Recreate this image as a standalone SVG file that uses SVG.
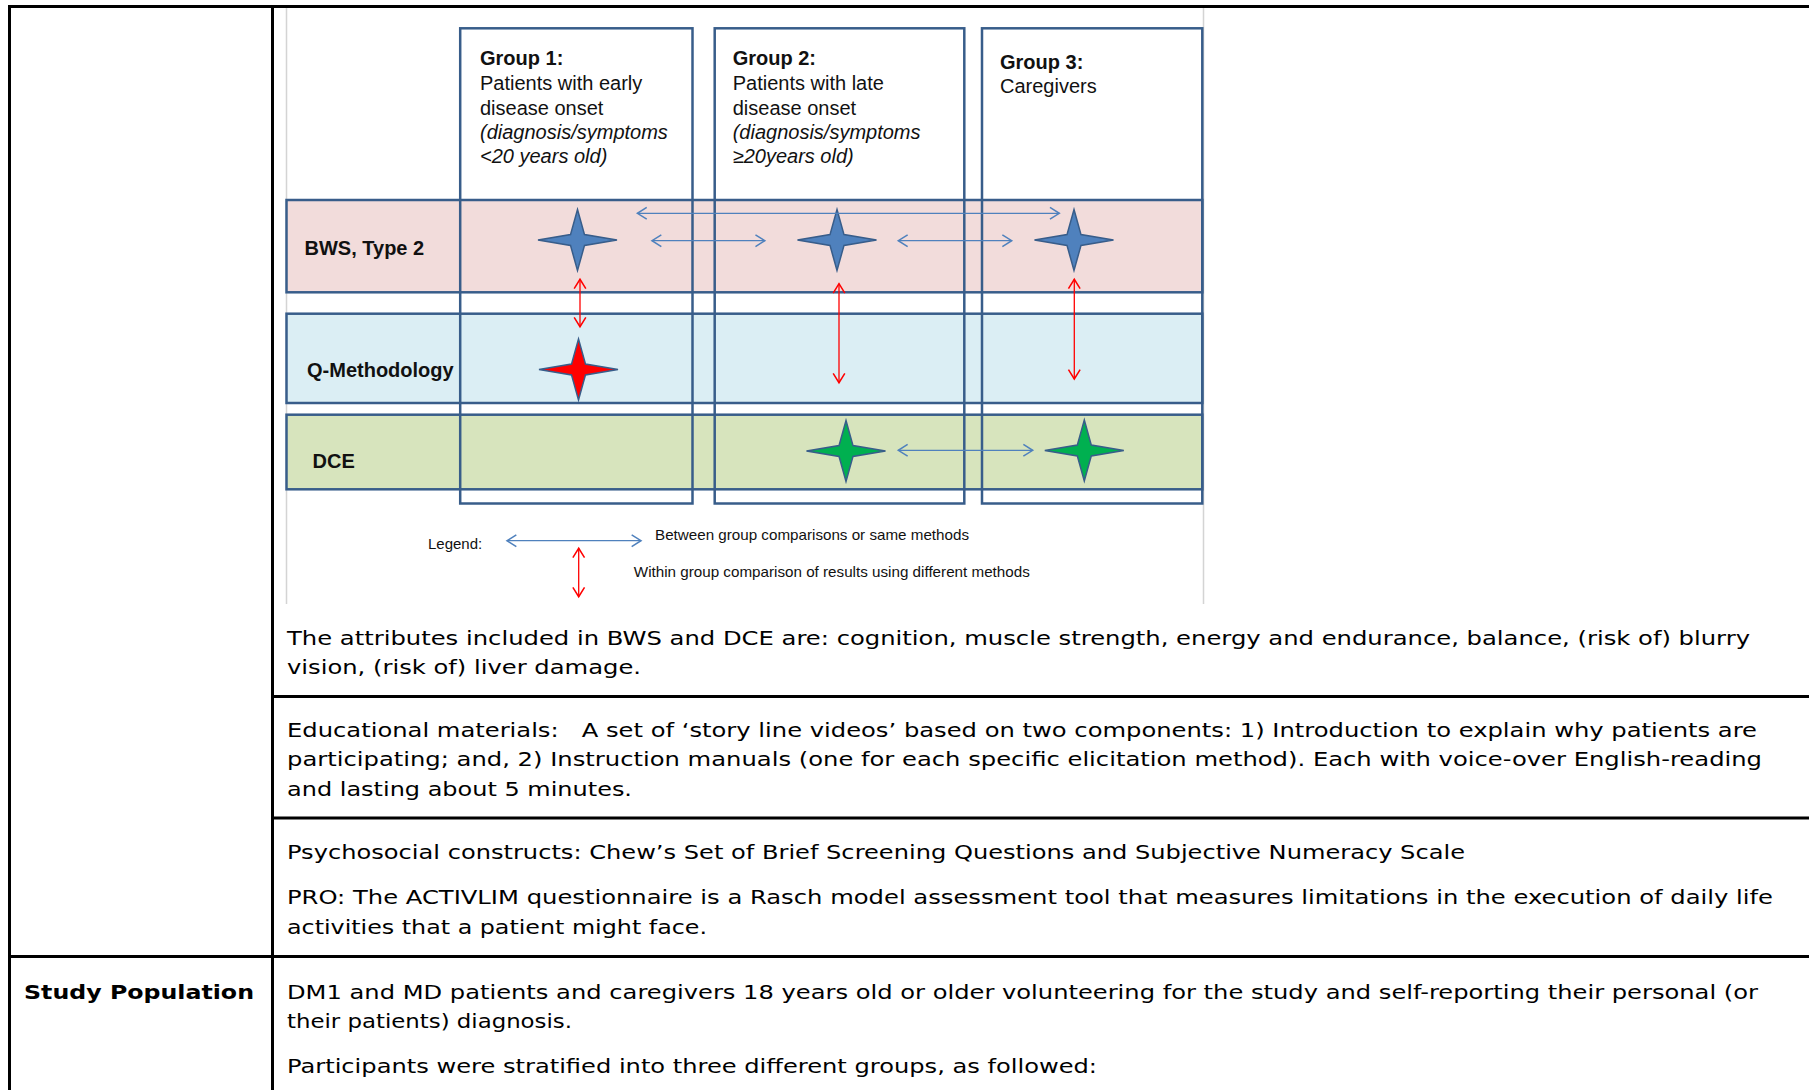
<svg xmlns="http://www.w3.org/2000/svg" xmlns:xlink="http://www.w3.org/1999/xlink" width="1809" height="1090" viewBox="0 0 1809 1090">
  <style>
    .rule { stroke: #000; stroke-width: 3; fill: none; }
    .frame { stroke: #d4d4d4; stroke-width: 1.5; fill: none; }
    .band { stroke: #385D8A; stroke-width: 2.5; }
    .gbox { stroke: #385D8A; stroke-width: 2.5; fill: none; }
    .lbl { font-family: "Liberation Sans", Arial, sans-serif; font-size: 20px; fill: #111; }
    .b { font-weight: bold; }
    .it { font-style: italic; }
    .leg { font-family: "Liberation Sans", Arial, sans-serif; font-size: 15px; fill: #111; }
    .cell { font-family: "DejaVu Sans", Verdana, sans-serif; font-size: 20.3px; fill: #000; }
    .head { font-family: "DejaVu Sans", Verdana, sans-serif; font-size: 20.3px; font-weight: bold; fill: #000; }
    .blue { stroke: #4F81BD; stroke-width: 1.3; fill: none; marker-start: url(#chevBlue); marker-end: url(#chevBlue); }
    .red { stroke: #FF0000; stroke-width: 1.3; fill: none; marker-start: url(#chevRed); marker-end: url(#chevRed); }
    .star { stroke: #385D8A; stroke-width: 1.5; stroke-linejoin: miter; }
  </style>
  <defs>
    <marker id="chevBlue" markerUnits="userSpaceOnUse" markerWidth="14" markerHeight="14" viewBox="-10 -6 12 12" refX="0" refY="0" orient="auto-start-reverse">
      <path d="M-8,-5 L0,0 L-8,5" fill="none" stroke="#4F81BD" stroke-width="1.3"/>
    </marker>
    <marker id="chevRed" markerUnits="userSpaceOnUse" markerWidth="14" markerHeight="14" viewBox="-10 -6 12 12" refX="0" refY="0" orient="auto-start-reverse">
      <path d="M-8,-5 L0,0 L-8,5" fill="none" stroke="#FF0000" stroke-width="1.3"/>
    </marker>
    <path id="star4" d="M0,-30.5 L7,-5.4 L39.5,0 L7,5.4 L0,30.5 L-7,5.4 L-39.5,0 L-7,-5.4 Z"/>
  </defs>

  <rect x="0" y="0" width="1809" height="1090" fill="#fff"/>

  <!-- table rules -->
  <g id="table">
    <line class="rule" x1="8" y1="6.5" x2="1809" y2="6.5"/>
    <line class="rule" x1="9.5" y1="5" x2="9.5" y2="1090"/>
    <line class="rule" x1="272.5" y1="5" x2="272.5" y2="1090"/>
    <line class="rule" x1="272" y1="696.5" x2="1809" y2="696.5"/>
    <line class="rule" x1="272" y1="818" x2="1809" y2="818"/>
    <line class="rule" x1="8" y1="956.5" x2="1809" y2="956.5"/>
  </g>

  <!-- figure frame -->
  <g id="figure-frame">
    <line class="frame" x1="286.5" y1="8" x2="286.5" y2="604"/>
    <line class="frame" x1="1203.5" y1="8" x2="1203.5" y2="604"/>
  </g>

  <!-- method bands -->
  <g id="band-bws">
    <rect class="band" x="286.5" y="200" width="915.8" height="92.3" fill="#F2DCDB"/>
    <text class="lbl b" x="304.5" y="255">BWS, Type 2</text>
  </g>
  <g id="band-qmethod">
    <rect class="band" x="286.5" y="313.7" width="915.8" height="89.3" fill="#DBEEF4"/>
    <text class="lbl b" x="307" y="376.7">Q-Methodology</text>
  </g>
  <g id="band-dce">
    <rect class="band" x="286.5" y="414.7" width="915.8" height="74.6" fill="#D7E4BD"/>
    <text class="lbl b" x="312.5" y="467.7">DCE</text>
  </g>

  <!-- participant groups -->
  <g id="group-1">
    <rect class="gbox" x="460.2" y="28.3" width="232.3" height="475.2"/>
    <text class="lbl" x="480" y="65"><tspan class="b">Group 1:</tspan><tspan x="480" y="90">Patients with early</tspan><tspan x="480" y="114.5">disease onset</tspan><tspan class="it" x="480" y="138.5">(diagnosis/symptoms</tspan><tspan class="it" x="480" y="162.7">&lt;20 years old)</tspan></text>
  </g>
  <g id="group-2">
    <rect class="gbox" x="714.7" y="28.3" width="249.6" height="475.2"/>
    <text class="lbl" x="732.7" y="65"><tspan class="b">Group 2:</tspan><tspan x="732.7" y="90">Patients with late</tspan><tspan x="732.7" y="114.5">disease onset</tspan><tspan class="it" x="732.7" y="138.5">(diagnosis/symptoms</tspan><tspan class="it" x="732.7" y="162.7">≥20years old)</tspan></text>
  </g>
  <g id="group-3">
    <rect class="gbox" x="982" y="28.3" width="220.3" height="475.2"/>
    <text class="lbl" x="1000" y="69"><tspan class="b">Group 3:</tspan><tspan x="1000" y="92.7">Caregivers</tspan></text>
  </g>

  <!-- method markers -->
  <g id="star-bws-g1"><use xlink:href="#star4" class="star" fill="#4F81BD" transform="translate(577.5,240)"/></g>
  <g id="star-bws-g2"><use xlink:href="#star4" class="star" fill="#4F81BD" transform="translate(837,240)"/></g>
  <g id="star-bws-g3"><use xlink:href="#star4" class="star" fill="#4F81BD" transform="translate(1074,240)"/></g>
  <g id="star-q-g1"><use xlink:href="#star4" class="star" fill="#FF0000" stroke-width="2" transform="translate(578.5,369.5)"/></g>
  <g id="star-dce-g2"><use xlink:href="#star4" class="star" fill="#00B050" transform="translate(846,451)"/></g>
  <g id="star-dce-g3"><use xlink:href="#star4" class="star" fill="#00B050" transform="translate(1084.3,450.5)"/></g>

  <!-- comparisons -->
  <g id="connectors">
    <line class="blue" x1="637.4" y1="213.3" x2="1059.3" y2="213.3"/>
    <line class="blue" x1="652" y1="240.7" x2="764.8" y2="240.7"/>
    <line class="blue" x1="898.3" y1="240.7" x2="1011.7" y2="240.7"/>
    <line class="blue" x1="898.3" y1="450.3" x2="1032.7" y2="450.3"/>
    <line class="red" x1="580" y1="279.3" x2="580" y2="326.7"/>
    <line class="red" x1="839" y1="283.7" x2="839" y2="382.7"/>
    <line class="red" x1="1074.3" y1="279.3" x2="1074.3" y2="379"/>
  </g>

  <!-- legend -->
  <g id="legend">
    <text class="leg" x="428" y="549.3">Legend:</text>
    <line class="blue" x1="507" y1="540.7" x2="641" y2="540.7"/>
    <text class="leg" x="655" y="540" textLength="314" lengthAdjust="spacingAndGlyphs">Between group comparisons or same methods</text>
    <line class="red" x1="578.7" y1="548.3" x2="578.7" y2="596.7"/>
    <text class="leg" x="633.8" y="577.3" textLength="396" lengthAdjust="spacingAndGlyphs">Within group comparison of results using different methods</text>
  </g>

  <!-- table text -->
  <g id="cell-text">
    <text class="cell" x="287" y="645" textLength="1463" lengthAdjust="spacingAndGlyphs">The attributes included in BWS and DCE are: cognition, muscle strength, energy and endurance, balance, (risk of) blurry</text>
    <text class="cell" x="287" y="674" textLength="354" lengthAdjust="spacingAndGlyphs">vision, (risk of) liver damage.</text>

    <text class="cell" x="287" y="737" textLength="1470" lengthAdjust="spacingAndGlyphs">Educational materials: &#160; A set of ‘story line videos’ based on two components: 1) Introduction to explain why patients are</text>
    <text class="cell" x="287" y="766" textLength="1475" lengthAdjust="spacingAndGlyphs">participating; and, 2) Instruction manuals (one for each specific elicitation method). Each with voice-over English-reading</text>
    <text class="cell" x="287" y="796" textLength="345" lengthAdjust="spacingAndGlyphs">and lasting about 5 minutes.</text>

    <text class="cell" x="287" y="859" textLength="1178" lengthAdjust="spacingAndGlyphs">Psychosocial constructs: Chew’s Set of Brief Screening Questions and Subjective Numeracy Scale</text>
    <text class="cell" x="287" y="904" textLength="1486" lengthAdjust="spacingAndGlyphs">PRO: The ACTIVLIM questionnaire is a Rasch model assessment tool that measures limitations in the execution of daily life</text>
    <text class="cell" x="287" y="934" textLength="420" lengthAdjust="spacingAndGlyphs">activities that a patient might face.</text>

    <text class="head" x="24" y="999" textLength="230" lengthAdjust="spacingAndGlyphs">Study Population</text>
    <text class="cell" x="287" y="999" textLength="1471" lengthAdjust="spacingAndGlyphs">DM1 and MD patients and caregivers 18 years old or older volunteering for the study and self-reporting their personal (or</text>
    <text class="cell" x="287" y="1028" textLength="285" lengthAdjust="spacingAndGlyphs">their patients) diagnosis.</text>
    <text class="cell" x="287" y="1073" textLength="810" lengthAdjust="spacingAndGlyphs">Participants were stratified into three different groups, as followed:</text>
  </g>
</svg>
